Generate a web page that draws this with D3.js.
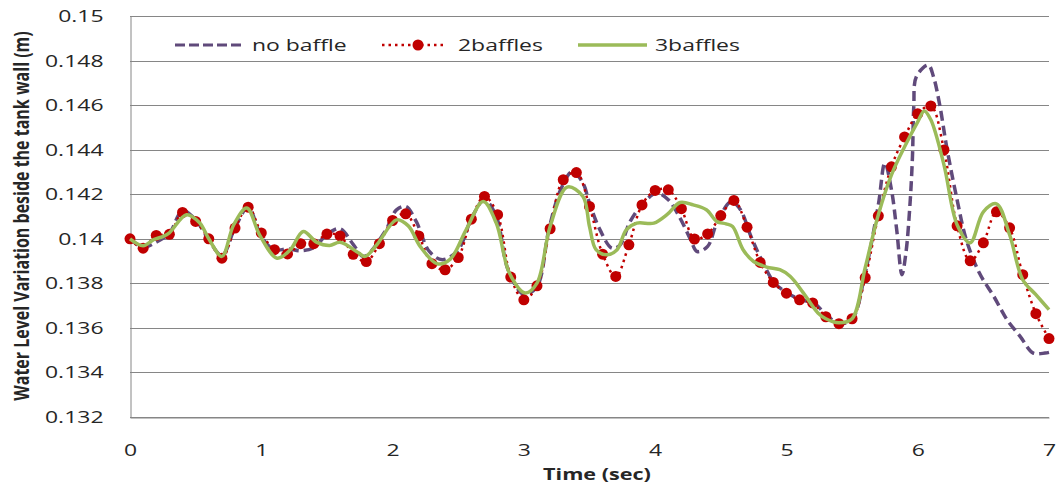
<!DOCTYPE html>
<html>
<head>
<meta charset="utf-8">
<script src="https://cdn.jsdelivr.net/npm/d3@7"></script>
<style>
  body { margin: 0; background: #fff; }
  text { font-family: "Open Sans", "DejaVu Sans", sans-serif; fill: #262626; }
</style>
</head>
<body>
<div id="chart"></div>
<script>
// ---------------- data ----------------
var yTicks = [0.132, 0.134, 0.136, 0.138, 0.14, 0.142, 0.144, 0.146, 0.148, 0.15];
var xTicks = [0, 1, 2, 3, 4, 5, 6, 7];
var seriesNames = ["no baffle", "2baffles", "3baffles"];

// no baffle
var noBaffleT = [0, 0.1, 0.2, 0.3, 0.4, 0.5, 0.6, 0.7, 0.8, 0.9, 1.0, 1.1, 1.2, 1.3, 1.4, 1.5, 1.6, 1.7,
  1.78, 1.94, 2.03, 2.1, 2.18, 2.28, 2.38, 2.5, 2.6, 2.7, 2.79, 2.88, 3.0, 3.1, 3.19, 3.28, 3.37, 3.45,
  3.5, 3.58, 3.67, 3.73, 3.81, 3.91, 4.01, 4.1, 4.19, 4.27, 4.32, 4.4, 4.47, 4.58, 4.65, 4.73, 4.81,
  4.91, 5.01, 5.11, 5.21, 5.3, 5.4, 5.5, 5.6, 5.7, 5.75, 5.8, 5.84, 5.88, 5.91, 5.94, 5.96, 5.97, 5.99,
  6.08, 6.12, 6.17, 6.22, 6.3, 6.37, 6.47, 6.58, 6.68, 6.78, 6.88, 6.97, 7.0];
var noBaffleV = [0.1400, 0.13962, 0.13985, 0.14025, 0.14125, 0.14085, 0.13995, 0.13925, 0.14050, 0.14140,
  0.14010, 0.13950, 0.13955, 0.13946, 0.13960, 0.14020, 0.14045, 0.13975,
  0.1392, 0.1403, 0.1413, 0.14145, 0.14078, 0.13943, 0.13906, 0.1395, 0.1409, 0.14175, 0.141, 0.13861,
  0.1375, 0.13786, 0.1404, 0.1422, 0.14302, 0.1425,
  0.1416, 0.1404, 0.13958, 0.1397, 0.14078, 0.1416, 0.14205, 0.14175, 0.14093, 0.13996, 0.13943, 0.13966,
  0.1407, 0.14167, 0.1413, 0.1401, 0.13906,
  0.13801, 0.13756, 0.13726, 0.13712, 0.1366, 0.1362, 0.1364, 0.13848, 0.14152, 0.1434, 0.1422, 0.1404,
  0.13839, 0.13936, 0.14145, 0.14369, 0.14593, 0.14728,
  0.1478, 0.14728, 0.14593, 0.14414, 0.14175, 0.13996, 0.13846, 0.13741, 0.13637, 0.13562, 0.13487,
  0.13487, 0.1349];

// 2 baffles (markers every 0.1 s)
var twoBafflesT = d3.range(0, 71).map(function(i) { return i / 10; });
var twoBafflesV = [0.1400, 0.13958, 0.14015, 0.1402, 0.14118, 0.14078, 0.1400, 0.13913, 0.14048, 0.14142,
  0.14026, 0.13951, 0.13932, 0.13978, 0.13978, 0.14021, 0.14013, 0.13930, 0.13898, 0.13978,
  0.14082, 0.14112, 0.14013, 0.13888, 0.13861, 0.13916, 0.14088, 0.14190, 0.14108, 0.13828,
  0.13726, 0.13789, 0.14045, 0.14265, 0.14297, 0.14145, 0.13931, 0.13831, 0.13973, 0.14152,
  0.14217, 0.14220, 0.14135, 0.13999, 0.14022, 0.14104, 0.14172, 0.14052, 0.13894, 0.13804,
  0.13756, 0.13726, 0.13712, 0.13650, 0.13619, 0.13641, 0.13825, 0.14103, 0.14323, 0.14457,
  0.14561, 0.14596, 0.14399, 0.14058, 0.13901, 0.13982, 0.14121, 0.14049, 0.13839, 0.13664,
  0.13552];

// 3 baffles
var threeBafflesT = [0, 0.1, 0.18, 0.25, 0.3, 0.43, 0.53, 0.6, 0.7, 0.79, 0.89, 0.99, 1.12, 1.22, 1.32,
  1.42, 1.52, 1.6, 1.74, 1.79, 1.88, 2.03, 2.12, 2.21, 2.34, 2.44, 2.56, 2.69, 2.79, 2.89, 3.01, 3.1,
  3.2, 3.33, 3.45, 3.5, 3.55, 3.63, 3.71, 3.78, 3.86, 3.99, 4.09, 4.19, 4.29, 4.39, 4.47, 4.54, 4.59,
  4.67, 4.75, 4.85, 4.95, 5.03, 5.13, 5.24, 5.3, 5.4, 5.5, 5.6, 5.7, 5.8, 5.9, 6.0, 6.05, 6.1, 6.2,
  6.3, 6.4, 6.5, 6.6, 6.7, 6.8, 6.9, 7.0];
var threeBafflesV = [0.1400, 0.13969, 0.13996, 0.1401, 0.14027, 0.14108, 0.14072, 0.1400, 0.13921, 0.14063,
  0.14138, 0.14014, 0.13913, 0.1395, 0.14033, 0.13985, 0.1397, 0.13984, 0.13937, 0.13921, 0.13973,
  0.14085, 0.14058, 0.13966, 0.13888, 0.13909, 0.1404, 0.14167, 0.1407, 0.13846, 0.13757, 0.13801,
  0.14055, 0.14232, 0.1419, 0.14055, 0.13951, 0.13928, 0.13951, 0.1404, 0.1407, 0.1407, 0.14108,
  0.14163, 0.14152, 0.1413, 0.14078, 0.14067, 0.14055, 0.13951, 0.13898, 0.13873, 0.13861, 0.13831,
  0.13756, 0.13667, 0.13641, 0.13623, 0.13641, 0.1387, 0.14108, 0.14287, 0.14413, 0.14525, 0.14574,
  0.14534, 0.14332, 0.14063, 0.13982, 0.14121, 0.14157, 0.14018, 0.13816, 0.13749, 0.13682];

// ---------------- svg ----------------
var svgWidth = 1056;
var svgHeight = 492;
var plotLeft = 130, plotRight = 1049, plotTop = 16, plotBottom = 417;
// the original text looks stretched sideways, so horizontal labels get a x-scale
var stretch = 1.35;

var svg = d3.select("#chart")
  .append("svg")
  .attr("width", svgWidth)
  .attr("height", svgHeight);

var xScale = d3.scaleLinear().domain([0, 7]).range([plotLeft, plotRight]);
var yScale = d3.scaleLinear().domain([0.132, 0.15]).range([plotBottom, plotTop]);

// horizontal gridlines
svg.append("g")
  .selectAll("line")
  .data(yTicks)
  .enter()
  .append("line")
  .attr("x1", plotLeft)
  .attr("x2", plotRight)
  .attr("y1", function(d) { return Math.round(yScale(d)) + 0.5; })
  .attr("y2", function(d) { return Math.round(yScale(d)) + 0.5; })
  .attr("stroke", "#868686")
  .attr("stroke-width", 1);

// y axis
var yAxis = d3.axisLeft(yScale)
  .tickValues(yTicks)
  .tickSize(0)
  .tickPadding(20)
  .tickFormat(function(d) { return d3.format("")(+d.toFixed(3)); });
var gy = svg.append("g")
  .attr("transform", "translate(" + (plotLeft + 0.5) + ",0)")
  .call(yAxis);
gy.select(".domain").attr("stroke", "#868686");
gy.selectAll("text")
  .attr("font-size", 17)
  .attr("fill", "#262626")
  .attr("font-family", "Open Sans")
  .attr("transform", "scale(" + stretch + ",1)");

// x axis
var xAxis = d3.axisBottom(xScale).tickValues(xTicks).tickSize(0).tickPadding(26).tickFormat(d3.format("d"));
var gx = svg.append("g")
  .attr("transform", "translate(0," + (plotBottom + 0.5) + ")")
  .call(xAxis);
gx.select(".domain").attr("stroke", "#868686");
gx.selectAll("text")
  .attr("font-size", 17)
  .attr("fill", "#262626")
  .attr("font-family", "Open Sans")
  .attr("transform", "scale(" + stretch + ",1)");

// axis titles
svg.append("text")
  .attr("transform", "translate(597,480)scale(" + stretch + ",1)")
  .attr("text-anchor", "middle")
  .attr("font-size", 16)
  .attr("font-weight", "bold")
  .text("Time (sec)");

svg.append("text")
  .attr("text-anchor", "middle")
  .attr("transform", "translate(29,216)rotate(-90)scale(1," + stretch + ")")
  .attr("font-size", 16)
  .attr("font-weight", "bold")
  .text("Water Level Variation beside the tank wall (m)");

// ---------------- lines ----------------
function toPoints(ts, vs) {
  return ts.map(function(t, i) { return [t, vs[i]]; });
}
var line = d3.line()
  .x(function(d) { return xScale(d[0]); })
  .y(function(d) { return yScale(d[1]); })
  .curve(d3.curveCatmullRom.alpha(0.5));

var noBaffle = toPoints(noBaffleT, noBaffleV);
var twoBaffles = toPoints(twoBafflesT, twoBafflesV);
var threeBaffles = toPoints(threeBafflesT, threeBafflesV);

svg.append("path")
  .datum(noBaffle)
  .attr("d", line)
  .attr("fill", "none")
  .attr("stroke", "#604a7b")
  .attr("stroke-width", 3.5)
  .attr("stroke-dasharray", "10,5");

svg.append("path")
  .datum(twoBaffles)
  .attr("d", line)
  .attr("fill", "none")
  .attr("stroke", "#c00000")
  .attr("stroke-width", 2.5)
  .attr("stroke-dasharray", "2.5,4");

svg.append("g")
  .selectAll("circle")
  .data(twoBaffles)
  .enter()
  .append("circle")
  .attr("cx", function(d) { return xScale(d[0]); })
  .attr("cy", function(d) { return yScale(d[1]); })
  .attr("r", 5.5)
  .attr("fill", "#c00000");

svg.append("path")
  .datum(threeBaffles)
  .attr("d", line)
  .attr("fill", "none")
  .attr("stroke", "#9bbb59")
  .attr("stroke-width", 3.5);

// ---------------- legend ----------------
var legendY = 45;
var legend = svg.append("g").attr("class", "legend");

function legendText(x, label) {
  legend.append("text")
    .attr("transform", "translate(" + x + "," + (legendY + 6) + ")scale(" + stretch + ",1)")
    .attr("font-size", 17)
    .text(label);
}

legend.append("line")
  .attr("x1", 175).attr("x2", 245).attr("y1", legendY).attr("y2", legendY)
  .attr("stroke", "#604a7b").attr("stroke-width", 3).attr("stroke-dasharray", "10,4");
legendText(252, seriesNames[0]);

legend.append("line")
  .attr("x1", 382).attr("x2", 447).attr("y1", legendY).attr("y2", legendY)
  .attr("stroke", "#c00000").attr("stroke-width", 2.5).attr("stroke-dasharray", "2.5,4");
legend.append("circle").attr("cx", 418).attr("cy", legendY).attr("r", 5.5).attr("fill", "#c00000");
legendText(458, seriesNames[1]);

legend.append("line")
  .attr("x1", 578).attr("x2", 647).attr("y1", legendY).attr("y2", legendY)
  .attr("stroke", "#9bbb59").attr("stroke-width", 3.5);
legendText(655, seriesNames[2]);
</script>
</body>
</html>
